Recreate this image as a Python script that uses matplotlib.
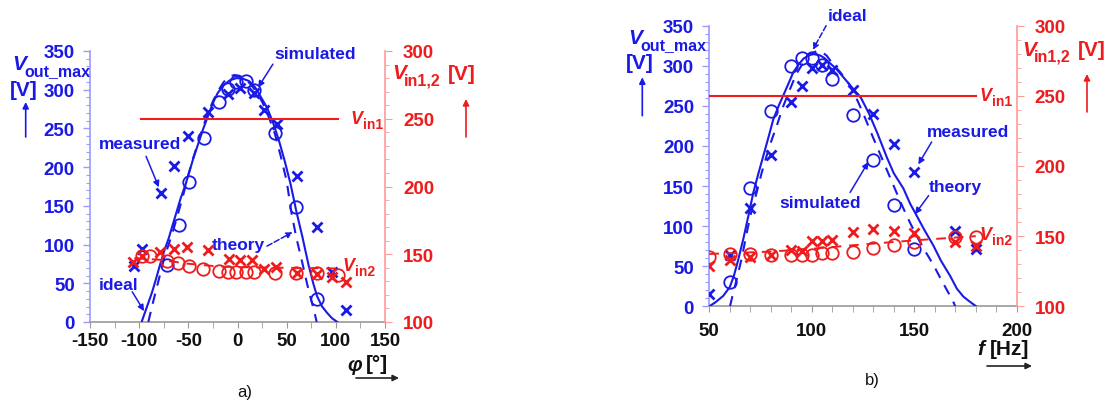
import matplotlib
matplotlib.use("Agg")
import matplotlib.pyplot as plt
from matplotlib.patches import FancyArrowPatch
from matplotlib.ticker import MultipleLocator

W, H = 1109, 402
BLUE = "#1a1ae6"
RED = "#ee1c1c"
BLUE_AX = "#9a9aff"
RED_AX = "#ff9a9a"
GRAY_AX = "#999999"
FONT = "Liberation Sans"

# ---------------- a) output voltage vs. phase angle ----------------
phi_theory = [-97.5, -92, -87, -83, -79, -75, -70, -66, -62, -58, -53, -49, -45, -40, -35, -30,
              -25, -20, -14, -8, -1, 6, 12, 18, 24, 30, 36, 42, 48, 54, 60, 66, 72, 77, 81,
              86, 91, 96, 101.5]
vout_theory_a = [0, 20, 38, 55, 73, 90, 108, 125, 142, 159, 177, 194, 211, 230, 249, 266,
                 283, 296, 306, 312, 315, 314, 311, 303, 290, 277, 258, 235, 208, 178, 142,
                 110, 75, 50, 33, 20, 12, 5, 0]
phi_ideal = [-90.7, -86, -82, -78, -74, -70, -65, -60, -55, -50, -45, -40, -35, -30, -25, -20,
             -14, -8, -3, 2, 8, 14, 20, 26, 32, 38, 44, 50, 55, 60, 66, 71, 75, 78, 80.5]
vout_ideal_a = [0, 25, 45, 65, 85, 100, 120, 142, 165, 190, 212, 232, 252, 270, 285, 298,
                310, 317, 319, 318, 314, 306, 296, 282, 264, 243, 214, 182, 140, 108, 76, 48,
                28, 14, 0]
phi_meas = [-105, -97, -78, -65, -50, -30, -10, 3, 17, 27, 40, 61, 81, 96, 110]
vout_meas_a = [72, 94, 167, 202, 240, 271, 294, 302, 296, 274, 256, 189, 123, 64, 16]
phi_sim = [-72, -60, -49, -34, -19, -10, -2, 9, 17, 38, 59, 81]
vout_sim_a = [73, 125, 181, 237, 284, 301, 310, 311, 300, 244, 148, 30]
phi_vin2_meas = [-106, -97.5, -79, -65, -51, -30, -9, 2.5, 15, 27, 39, 60, 81, 96, 110]
vin2_meas_a = [144, 149, 152, 154, 155, 153, 146.5, 146, 146, 139, 140.5, 136.5, 135.5, 133, 129.5]
phi_vin2_sim = [-97, -89, -72, -61, -49, -35, -19, -10, -2, 9, 17, 38, 59, 81, 102.5]
vin2_sim_a = [148.5, 149, 145, 143.5, 141, 139, 137.5, 137, 137, 137, 137, 136.5, 136.5, 136.5, 135]
phi_vin2_theory = [-105, -80, -50, -20, 0, 50, 100]
vin2_theory_a = [147, 146, 143, 141, 140.5, 140, 139.5]
phi_vin1 = [-98, 102]
vin1_a = [250, 250]

# ---------------- b) output voltage vs. frequency ----------------
f_theory = [50, 53, 56.8, 60, 62, 64, 66.6, 69, 71.5, 74, 76.4, 79, 81.2, 84, 86.1, 89, 91, 94,
            96, 99, 101, 104, 106, 109, 112, 116, 120.3, 124, 128, 132, 136.6, 140, 144.7, 148,
            151.2, 155, 159.3, 163, 167.5, 170.8, 174, 177, 180.2]
vout_theory_b = [0, 5, 13, 24, 38, 57, 84, 112, 142, 166, 188, 212, 233, 251, 263, 280, 292,
                 303, 309, 313.5, 314.5, 313, 310, 303, 296, 284, 271, 260, 240, 216, 186, 166,
                 147, 128, 113, 95, 76, 57, 38, 22, 12, 6, 0]
f_ideal = [60.1, 61.5, 63.4, 66, 68.3, 70.5, 73.1, 75.5, 78, 80.5, 82.9, 86, 89.4, 92.5, 95.9,
           99, 102.5, 105, 107.3, 110, 113.9, 118, 121, 125.2, 130, 135, 140, 144, 148, 152,
           156, 159.3, 163, 166, 169, 170]
vout_ideal_b = [0, 15, 34, 62, 92, 118, 142, 166, 188, 208, 225, 249, 271, 290, 304, 314,
                318.5, 317, 312.6, 303, 292, 278, 264, 240, 210, 180, 150, 126, 104, 84, 66,
                52, 34, 20, 6, 0]
f_meas = [50, 60, 70, 80, 90, 95, 100, 105, 110, 120, 130, 140, 150, 170, 180]
vout_meas_b = [15, 64, 122, 189, 255, 275, 297, 301, 295, 270, 240, 202, 167, 94, 72]
f_sim = [60, 70, 80, 90, 95, 100, 105, 110, 120, 130, 140, 150]
vout_sim_b = [30, 147, 243, 300, 310, 310, 301, 284, 238, 182, 126, 72]
f_vin2 = [50, 60, 70, 80, 90, 95, 100, 105, 110, 120, 130, 140, 150, 170, 180]
vin2_meas_b = [129, 133, 135, 136.6, 140, 139.6, 146.3, 146.3, 147.3, 153.2, 155, 153.5, 152, 145.6, 142.8]
vin2_sim_b = [135, 137.3, 137.3, 136.6, 136.6, 136.6, 136.6, 137.8, 138, 139, 141.3, 143.7, 146, 149.6, 149.2]
f_vin2_theory = [50, 80, 100, 120, 150, 180]
vin2_theory_b = [137.3, 139, 141, 143.5, 147, 150]
f_vin1 = [50, 180]
vin1_b = [250, 250]

plt.rcParams["font.family"] = [FONT, "DejaVu Sans"]
plt.rcParams["font.weight"] = "bold"
plt.rcParams["axes.unicode_minus"] = False

fig = plt.figure(figsize=(W / 100, H / 100), dpi=100)


def fx(px):
    return px / W


def fy(py):
    return 1 - py / H


def style_axes(ax, axr, xlim, xmajor, xminor, xpad):
    ax.set_ylim(0, 350)
    axr.set_ylim(100, 300)
    ax.set_xlim(*xlim)
    ax.xaxis.set_major_locator(MultipleLocator(xmajor))
    ax.xaxis.set_minor_locator(MultipleLocator(xminor))
    ax.yaxis.set_major_locator(MultipleLocator(50))
    ax.yaxis.set_minor_locator(MultipleLocator(10))
    axr.yaxis.set_major_locator(MultipleLocator(50))
    axr.yaxis.set_minor_locator(MultipleLocator(10))
    for a in (ax, axr):
        a.set_facecolor("none")
        a.spines["top"].set_visible(False)
    ax.spines["right"].set_visible(False)
    axr.spines["left"].set_visible(False)
    axr.spines["bottom"].set_visible(False)
    ax.spines["left"].set_color(BLUE_AX)
    ax.spines["bottom"].set_color(GRAY_AX)
    axr.spines["right"].set_color(RED_AX)
    for s in ("left", "bottom"):
        ax.spines[s].set_linewidth(1.2)
    axr.spines["right"].set_linewidth(1.2)
    ax.tick_params(axis="y", which="both", colors=BLUE_AX, labelcolor=BLUE,
                   labelsize=13.5, direction="out", pad=6)
    ax.tick_params(axis="y", which="major", length=5, width=1)
    ax.tick_params(axis="y", which="minor", length=3, width=0.8)
    ax.tick_params(axis="x", which="both", colors=GRAY_AX, labelcolor="#111111",
                   labelsize=13.5, direction="out", pad=xpad)
    ax.tick_params(axis="x", which="major", length=4)
    ax.tick_params(axis="x", which="minor", length=4)
    axr.tick_params(axis="y", which="both", colors=RED_AX, labelcolor=RED,
                    labelsize=13.5, direction="out", pad=8)
    axr.tick_params(axis="y", which="major", length=5)
    axr.tick_params(axis="y", which="minor", length=3)
    for lab in ax.get_xticklabels() + ax.get_yticklabels() + axr.get_yticklabels():
        lab.set_fontweight("bold")


def plot_panel(ax, axr, xt, yt, xi, yi, xm, ym, xs, ys, xvm, vm, xvs, vs, xvt, vt, xv1, v1):
    ax.plot(xt, yt, color=BLUE, lw=1.5, zorder=3)
    ax.plot(xi, yi, color=BLUE, lw=1.5, ls=(0, (5, 4)), zorder=3)
    ax.plot(xm, ym, ls="none", marker="x", ms=7.5, mew=2, color=BLUE, zorder=4)
    ax.plot(xs, ys, ls="none", marker="o", ms=9, mew=1.3, mfc="none", mec=BLUE, zorder=4)
    axr.plot(xv1, v1, color=RED, lw=1.5, zorder=3)
    axr.plot(xvt, vt, color=RED, lw=1.4, ls=(0, (5, 4)), zorder=3)
    axr.plot(xvm, vm, ls="none", marker="x", ms=7.5, mew=2, color=RED, zorder=4)
    axr.plot(xvs, vs, ls="none", marker="o", ms=9, mew=1.3, mfc="none", mec=RED, zorder=4)


def note(ax, text, xy_text, tip, tail, dashed=False):
    ax.text(*xy_text, text, color=BLUE, fontsize=12.5, fontweight="bold",
            ha="left", va="center", clip_on=False, zorder=6)
    ax.annotate("", xy=tip, xytext=tail, annotation_clip=False, zorder=6,
                arrowprops=dict(arrowstyle="-|>", color=BLUE, lw=1.1,
                                ls="--" if dashed else "-", mutation_scale=9,
                                shrinkA=0, shrinkB=0))


def vin_label(axr, x, y, sub):
    axr.text(x, y, "V", color=RED, fontsize=13, fontweight="bold", style="italic",
             ha="left", va="center", clip_on=False)
    axr.annotate(sub, xy=(x, y), xytext=(9, -4), textcoords="offset points",
                 color=RED, fontsize=10, fontweight="bold", ha="left", va="center",
                 annotation_clip=False)


def fig_arrow(x0, y0, x1, y1, color):
    fig.add_artist(FancyArrowPatch((fx(x0), fy(y0)), (fx(x1), fy(y1)),
                                   transform=fig.transFigure, arrowstyle="-|>",
                                   color=color, lw=1.2, mutation_scale=9,
                                   shrinkA=0, shrinkB=0))


def side_labels(vx, vy, rx, ry, arrow_blue, arrow_red):
    # left axis title
    fig.text(fx(vx), fy(vy), "V", color=BLUE, fontsize=15, fontweight="bold",
             style="italic", ha="left", va="center")
    fig.text(fx(vx + 12), fy(vy + 7), "out_max", color=BLUE, fontsize=11.5,
             fontweight="bold", ha="left", va="center")
    fig.text(fx(vx - 2), fy(vy + 25), "[V]", color=BLUE, fontsize=15,
             fontweight="bold", ha="left", va="center")
    fig_arrow(*arrow_blue, BLUE)
    # right axis title
    fig.text(fx(rx), fy(ry), "V", color=RED, fontsize=15, fontweight="bold",
             style="italic", ha="left", va="center")
    fig.text(fx(rx + 12), fy(ry + 7), "in1,2", color=RED, fontsize=11.5,
             fontweight="bold", ha="left", va="center")
    fig.text(fx(rx + 56), fy(ry + 1), "[V]", color=RED, fontsize=15,
             fontweight="bold", ha="left", va="center")
    fig_arrow(*arrow_red, RED)


# ---------- panel a ----------
ax1 = fig.add_axes([fx(90), fy(323), (385 - 90) / W, (323 - 52) / H])
ax1r = ax1.twinx()
style_axes(ax1, ax1r, (-150, 150), 50, 25, 3.5)
plot_panel(ax1, ax1r, phi_theory, vout_theory_a, phi_ideal, vout_ideal_a, phi_meas, vout_meas_a,
           phi_sim, vout_sim_a, phi_vin2_meas, vin2_meas_a, phi_vin2_sim, vin2_sim_a,
           phi_vin2_theory, vin2_theory_a, phi_vin1, vin1_a)
note(ax1, "simulated", (37, 347), (21, 303), (36, 333))
note(ax1, "measured", (-141, 230), (-80, 174), (-93, 214))
note(ax1, "theory", (-26, 100), (56, 116), (30, 98), dashed=True)
note(ax1, "ideal", (-141, 48), (-95, 14), (-107, 39))
vin_label(ax1r, 115, 250, "in1")
vin_label(ax1r, 107, 142, "in2")
side_labels(12, 65, 392, 74, (25.7, 138, 25.7, 103), (466, 138, 466, 100))
fig.text(fx(347), fy(366), "\u03c6", color="#111111", fontsize=15, fontweight="bold",
         style="italic", ha="left", va="center")
fig.text(fx(366), fy(365), "[\u00b0]", color="#111111", fontsize=15, fontweight="bold",
         ha="left", va="center")
fig_arrow(356, 379, 399, 379, "#222222")
fig.text(fx(245), fy(393), "a)", color="#111111", fontsize=12, fontweight="normal",
         ha="center", va="center")

# ---------- panel b ----------
ax2 = fig.add_axes([fx(709.3), fy(307.3), (1016.7 - 709.3) / W, (307.3 - 26.7) / H])
ax2r = ax2.twinx()
style_axes(ax2, ax2r, (50, 200), 50, 10, 7)
plot_panel(ax2, ax2r, f_theory, vout_theory_b, f_ideal, vout_ideal_b, f_meas, vout_meas_b,
           f_sim, vout_sim_b, f_vin2, vin2_meas_b, f_vin2, vin2_sim_b,
           f_vin2_theory, vin2_theory_b, f_vin1, vin1_b)
note(ax2, "ideal", (108, 363), (100.5, 320), (107, 350), dashed=True)
note(ax2, "measured", (156, 218), (152, 177), (158.5, 205))
note(ax2, "theory", (157, 149), (150.4, 115), (157, 138))
note(ax2, "simulated", (84, 129), (127.6, 180), (118.7, 142))
vin_label(ax2r, 182, 250.5, "in1")
vin_label(ax2r, 182, 151.5, "in2")
side_labels(628, 39, 1022, 50, (642.3, 116.7, 642.3, 78.3), (1087, 113, 1087, 75))
fig.text(fx(977), fy(350), "f", color="#111111", fontsize=15, fontweight="bold",
         style="italic", ha="left", va="center")
fig.text(fx(990), fy(350), "[Hz]", color="#111111", fontsize=15, fontweight="bold",
         ha="left", va="center")
fig_arrow(987, 367, 1032, 367, "#222222")
fig.text(fx(872), fy(381), "b)", color="#111111", fontsize=12, fontweight="normal",
         ha="center", va="center")

fig.savefig("out.png", dpi=100, facecolor="white")
